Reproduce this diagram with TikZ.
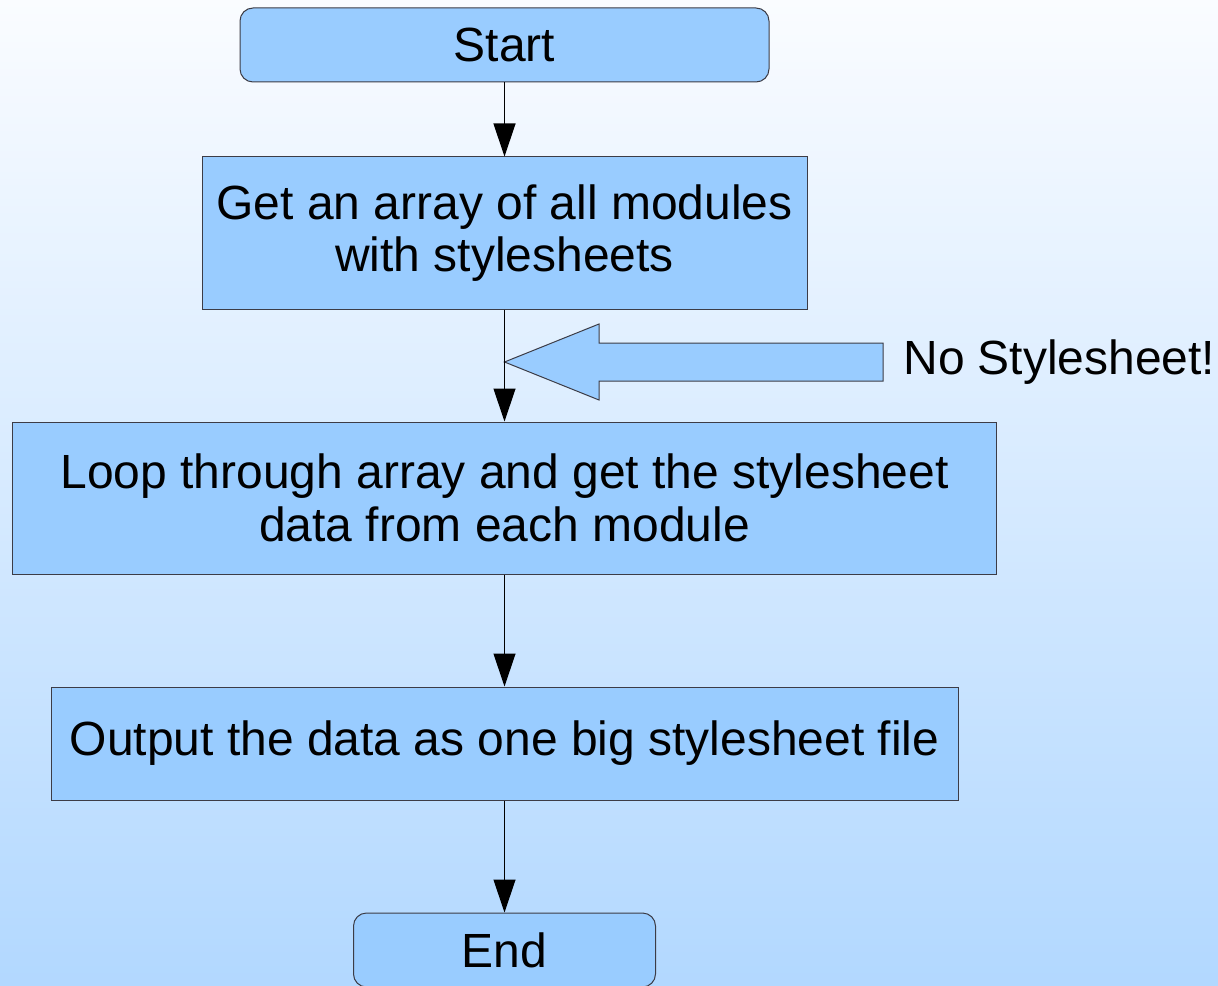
\documentclass[tikz,border=0pt]{standalone}
\usepackage{fontspec}
\setmainfont{Liberation Sans}
\usetikzlibrary{arrows.meta}
\definecolor{boxblue}{RGB}{153,204,255}
\definecolor{bgtop}{RGB}{250,252,255}
\definecolor{bgbottom}{RGB}{178,216,255}
\definecolor{edgegray}{RGB}{60,60,70}
\begin{document}
\begin{tikzpicture}[draw=black!100,scale=1.0]
	\def \midx{10.09cm}
	\tikzstyle{term-node}=[rectangle,rounded corners=0.26cm,draw=edgegray,fill=boxblue,line width=0.02cm,inner sep=0pt,font=\fontsize{27.3}{30}\selectfont]
	\tikzstyle{step-node}=[rectangle,draw=edgegray,fill=boxblue,line width=0.02cm,inner sep=0pt,align=center,font=\fontsize{27.3}{30}\selectfont]
	\tikzstyle{flow} = [line width=0.025cm,-{Triangle[width=0.44cm,length=0.66cm]}]
	% background
	\useasboundingbox (0,0) rectangle (24.36,-19.72);
	\shade[top color=bgtop,bottom color=bgbottom] (0,0) rectangle (24.36,-19.72);
	\node[term-node,minimum width=10.58cm,minimum height=1.48cm] (start) at (\midx,-0.9) {Start};
	\node[step-node,minimum width=12.1cm,minimum height=3.04cm] (modules) at (\midx,-4.66) {Get an array of all modules\\with stylesheets};
	\node[step-node,minimum width=19.66cm,minimum height=3.04cm] (loop) at (\midx,-9.96) {Loop through array and get the stylesheet\\data from each module};
	\node[step-node,minimum width=18.14cm,minimum height=2.26cm] (output) at (\midx,-14.87) {Output the data as one big stylesheet file};
	\node[term-node,minimum width=6.04cm,minimum height=1.48cm] (end) at (\midx,-19.0) {End};
	% no stylesheet hint
	\coordinate (tip) at (\midx,-7.24);
	\node[anchor=west,inner sep=0pt,font=\fontsize{27.3}{30}\selectfont] (nostyle) at (18.06,-7.24) {No Stylesheet!};
	\filldraw[fill=boxblue,draw=edgegray,line width=0.02cm] (tip) -- (11.98,-6.48) -- (11.98,-6.86) -- (17.66,-6.86)
		-- (17.66,-7.62) -- (11.98,-7.62) -- (11.98,-8.0) -- cycle;
	\path (start)	edge[flow]	(modules)
		(modules)	edge[flow]	(loop)
		(loop)	edge[flow]	(output)
		(output)	edge[flow]	(end);
\end{tikzpicture}
\end{document}
